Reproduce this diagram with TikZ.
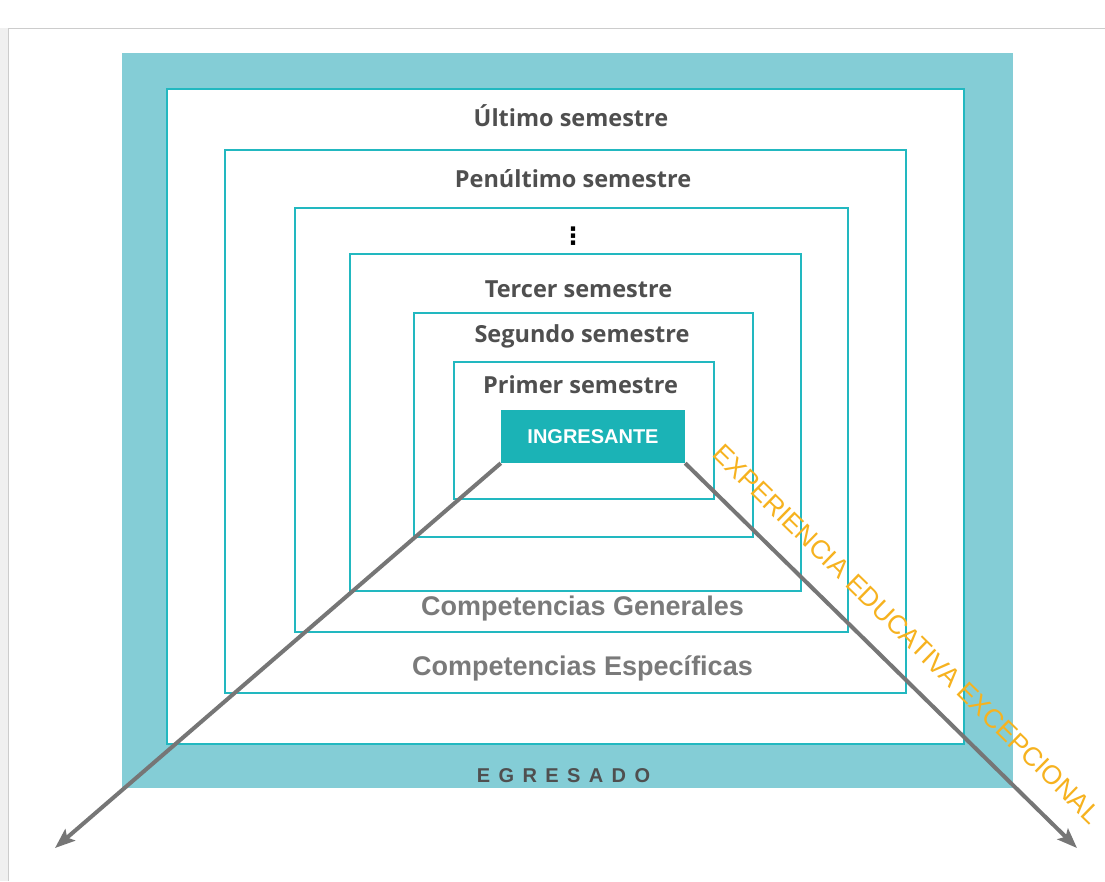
\documentclass[tikz,border=0pt]{standalone}
\usepackage{fontspec}
\setmainfont{Open Sans}
\newfontfamily\arialfont{Liberation Sans}
\newfontfamily\symfont{DejaVu Sans}
\usepackage{tikz}
\usetikzlibrary{arrows.meta}
\definecolor{bandteal}{HTML}{84CDD6}
\definecolor{lineteal}{HTML}{22B8C0}
\definecolor{boxteal}{HTML}{1BB3B6}
\definecolor{labelgray}{HTML}{4F4F4F}
\definecolor{compgray}{HTML}{7A7A7A}
\definecolor{arrowgray}{HTML}{767676}
\definecolor{expyellow}{HTML}{F6B21F}

\begin{document}
\begin{tikzpicture}[x=1pt,y=-1pt,>={Stealth[length=20pt,width=15pt,inset=4pt]},
    frame box/.style={draw=lineteal,line width=2pt},
    sem label/.style={anchor=base,inner sep=0pt,text=labelgray,font=\bfseries\fontsize{23.5}{28}\selectfont},
    comp label/.style={anchor=base,inner sep=0pt,text=compgray,font=\arialfont\bfseries\fontsize{27}{32}\selectfont},
    flow arrow/.style={->,draw=arrowgray,line width=4pt}]
   \useasboundingbox (0,0) rectangle (1105,881);
   % page frame
   \fill[white] (0,0) rectangle (1105,881);
   \fill[gray!12] (0,28) rectangle (8,881);
   \draw[gray!40,line width=1pt] (8,881) -- (8,28) -- (1105,28);

   % egresado band and semester frames
   \fill[bandteal] (122,53) rectangle (1013,788);
   \filldraw[frame box,fill=white] (167,89) rectangle (964,744);
   \draw[frame box] (225,150) rectangle (906,693);
   \draw[frame box] (295,208) rectangle (848,632);
   \draw[frame box] (350,254) rectangle (801,591);
   \draw[frame box] (414,313) rectangle (753,537);
   \draw[frame box] (454,362) rectangle (714,499);

   \node[sem label] (ultimo) at (571,126) {Último semestre};
   \node[sem label] (penultimo) at (573,187) {Penúltimo semestre};
   \node[inner sep=0pt,font=\symfont\bfseries\fontsize{24}{26}\selectfont] (dots) at (573,236) {⋮};
   \node[sem label] (tercer) at (578.5,297) {Tercer semestre};
   \node[sem label] (segundo) at (582,342) {Segundo semestre};
   \node[sem label] (primer) at (580.5,393) {Primer semestre};

   \node[fill=boxteal,minimum width=184,minimum height=53,inner sep=0pt,
     text=white,font=\arialfont\bfseries\fontsize{20}{22}\selectfont] (ing) at (593,436.5) {INGRESANTE};

   \node[comp label] (generales) at (582.5,615) {Competencias Generales};
   \node[comp label] (especificas) at (582.5,675) {Competencias Específicas};
   \node[anchor=base,inner sep=0pt,text=labelgray,
     font=\arialfont\bfseries\fontsize{20}{24}\selectfont\addfontfeature{LetterSpace=42}] (egresado) at (563.5,782) {EGRESADO};

   % arrows
   \coordinate (left tip) at (55,848);
   \coordinate (right tip) at (1077,848);
   \draw[flow arrow] (ing.south west) -- (left tip);
   \draw[flow arrow] (ing.south east) -- (right tip);

   \node[rotate=-44.3,inner sep=0pt,text=expyellow,font=\arialfont\fontsize{26.5}{30}\selectfont] (exp) at (907,634) {EXPERIENCIA EDUCATIVA EXCEPCIONAL};
\end{tikzpicture}
\end{document}
